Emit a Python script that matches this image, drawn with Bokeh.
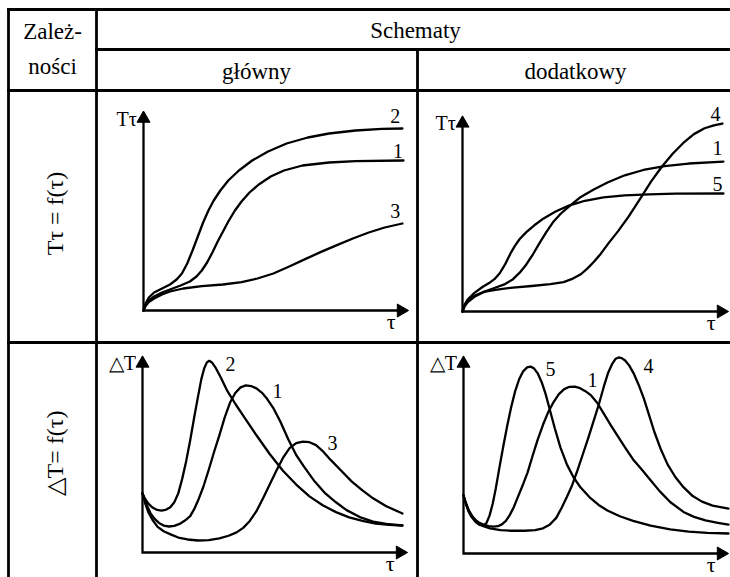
import numpy as np
from bokeh.plotting import figure
from bokeh.models import Range1d
from bokeh.embed import file_html
from bokeh.resources import INLINE
from bokeh.core.properties import value

FONT = "Liberation Serif"

# ---------------- data (panel units: tau 0..10, value 0..10) ----------------
# Main scheme, T_tau = f(tau)
A2_tau = [0, 0.08, 0.2, 0.4, 0.7, 1.0, 1.25, 1.45, 1.65, 1.85, 2.05, 2.25, 2.45, 2.65, 2.9, 3.2, 3.6, 4.1, 4.7, 5.4, 6.2, 7.0, 8.0, 9.0, 9.77]
A2_T = [0, 0.35, 0.65, 0.9, 1.1, 1.3, 1.55, 1.85, 2.35, 3.0, 3.7, 4.4, 5.0, 5.5, 6.0, 6.5, 7.0, 7.5, 7.95, 8.35, 8.65, 8.85, 9.0, 9.08, 9.1]
A1_tau = [0, 0.08, 0.2, 0.4, 0.7, 1.0, 1.4, 1.75, 2.0, 2.2, 2.4, 2.6, 2.8, 3.0, 3.2, 3.45, 3.7, 4.0, 4.35, 4.8, 5.3, 6.0, 7.0, 8.0, 9.81]
A1_T = [0, 0.28, 0.5, 0.7, 0.9, 1.05, 1.25, 1.45, 1.7, 2.0, 2.4, 2.9, 3.45, 3.95, 4.45, 5.0, 5.45, 5.9, 6.3, 6.7, 7.0, 7.25, 7.4, 7.47, 7.5]
A3_tau = [0, 0.08, 0.2, 0.4, 0.7, 1.0, 1.5, 2.2, 3.0, 3.7, 4.3, 4.9, 5.5, 6.1, 6.7, 7.3, 7.9, 8.5, 9.1, 9.77]
A3_T = [0, 0.22, 0.42, 0.6, 0.8, 0.95, 1.1, 1.22, 1.3, 1.42, 1.6, 1.85, 2.2, 2.57, 2.93, 3.27, 3.6, 3.9, 4.15, 4.35]
A_labels = ["2", "1", "3"]
A_lab_tau = [9.5, 9.6, 9.5]
A_lab_T = [9.75, 8.0, 5.0]

# Additional scheme, T_tau = f(tau)
B4_tau = [0, 0.08, 0.2, 0.45, 0.8, 1.3, 1.9, 2.6, 3.3, 3.8, 4.15, 4.45, 4.7, 4.95, 5.2, 5.5, 5.85, 6.25, 6.7, 7.1, 7.5, 7.9, 8.3, 8.7, 9.1, 9.45, 9.77]
B4_T = [0, 0.3, 0.55, 0.8, 1.0, 1.12, 1.22, 1.3, 1.4, 1.5, 1.68, 1.9, 2.2, 2.55, 2.95, 3.5, 4.1, 4.85, 5.8, 6.65, 7.4, 8.05, 8.6, 9.05, 9.35, 9.5, 9.59]
B1_tau = [0, 0.08, 0.2, 0.45, 0.8, 1.2, 1.6, 1.9, 2.15, 2.4, 2.65, 2.9, 3.15, 3.4, 3.7, 4.0, 4.4, 4.9, 5.45, 6.1, 6.8, 7.6, 8.5, 9.81]
B1_T = [0, 0.27, 0.48, 0.75, 1.0, 1.2, 1.4, 1.65, 1.98, 2.4, 2.92, 3.5, 4.05, 4.55, 5.0, 5.35, 5.8, 6.2, 6.58, 6.95, 7.22, 7.42, 7.55, 7.65]
B5_tau = [0, 0.08, 0.2, 0.45, 0.75, 1.0, 1.2, 1.4, 1.6, 1.8, 1.97, 2.15, 2.4, 2.7, 3.05, 3.5, 4.0, 4.6, 5.3, 6.1, 7.0, 8.0, 9.81]
B5_T = [0, 0.35, 0.62, 0.95, 1.25, 1.45, 1.65, 1.95, 2.4, 2.95, 3.35, 3.7, 4.05, 4.4, 4.75, 5.1, 5.4, 5.65, 5.82, 5.92, 5.98, 6.01, 6.02]
B_labels = ["4", "1", "5"]
B_lab_tau = [9.51, 9.59, 9.59]
B_lab_T = [10.1, 8.32, 6.53]

# Main scheme, dT = f(tau)
C2_tau = [0, 0.1, 0.22, 0.38, 0.55, 0.72, 0.9, 1.05, 1.2, 1.35, 1.5, 1.65, 1.8, 1.95, 2.1, 2.22, 2.33, 2.43, 2.52, 2.62, 2.75, 2.95, 3.2, 3.5, 3.85, 4.3, 4.8, 5.3, 5.8, 6.3, 6.8, 7.3, 7.8, 8.3, 8.8, 9.3, 9.81]
C2_dT = [3.0, 2.72, 2.48, 2.28, 2.16, 2.13, 2.18, 2.3, 2.55, 3.0, 3.75, 4.65, 5.7, 6.85, 7.95, 8.8, 9.35, 9.65, 9.73, 9.65, 9.4, 8.9, 8.2, 7.55, 6.85, 5.95, 5.0, 4.15, 3.45, 2.85, 2.4, 2.05, 1.78, 1.6, 1.47, 1.4, 1.37]
C1_tau = [0, 0.08, 0.18, 0.3, 0.45, 0.62, 0.8, 1.0, 1.2, 1.4, 1.6, 1.8, 1.95, 2.1, 2.3, 2.5, 2.7, 2.9, 3.1, 3.3, 3.5, 3.7, 3.9, 4.1, 4.3, 4.5, 4.7, 4.95, 5.2, 5.5, 5.8, 6.1, 6.5, 6.9, 7.3, 7.7, 8.2, 8.7, 9.2, 9.81]
C1_dT = [3.0, 2.7, 2.35, 2.0, 1.72, 1.5, 1.37, 1.32, 1.35, 1.45, 1.62, 1.85, 2.2, 2.65, 3.35, 4.2, 5.1, 5.95, 6.85, 7.6, 8.1, 8.38, 8.48, 8.45, 8.33, 8.12, 7.8, 7.3, 6.65, 5.75, 4.95, 4.35, 3.6, 3.0, 2.55, 2.15, 1.8, 1.57, 1.45, 1.37]
C3_tau = [0, 0.1, 0.22, 0.38, 0.57, 0.8, 1.06, 1.35, 1.7, 2.1, 2.5, 2.9, 3.25, 3.55, 3.8, 4.05, 4.3, 4.55, 4.8, 5.05, 5.3, 5.55, 5.8, 6.05, 6.3, 6.55, 6.8, 7.1, 7.5, 7.9, 8.3, 8.7, 9.2, 9.81]
C3_dT = [3.0, 2.5, 2.05, 1.65, 1.3, 1.08, 0.92, 0.76, 0.66, 0.61, 0.63, 0.72, 0.85, 1.02, 1.25, 1.6, 2.1, 2.75, 3.45, 4.15, 4.8, 5.3, 5.55, 5.63, 5.6, 5.45, 5.15, 4.7, 4.15, 3.6, 3.15, 2.75, 2.35, 1.98]
C_labels = ["2", "1", "3"]
C_lab_tau = [3.32, 5.09, 7.17]
C_lab_dT = [9.59, 8.22, 5.58]

# Additional scheme, dT = f(tau)
D5_tau = [0, 0.08, 0.18, 0.3, 0.45, 0.6, 0.75, 0.87, 0.98, 1.1, 1.22, 1.35, 1.5, 1.65, 1.8, 1.95, 2.1, 2.25, 2.4, 2.53, 2.66, 2.8, 2.95, 3.1, 3.28, 3.45, 3.66, 3.9, 4.15, 4.42, 4.75, 5.1, 5.43, 5.9, 6.4, 7.06, 7.8, 8.5, 9.2, 10.0]
D5_dT = [2.93, 2.55, 2.15, 1.85, 1.6, 1.45, 1.41, 1.55, 1.9, 2.5, 3.3, 4.3, 5.4, 6.45, 7.4, 8.2, 8.8, 9.2, 9.4, 9.44, 9.35, 9.1, 8.65, 8.05, 7.15, 6.3, 5.35, 4.5, 3.85, 3.33, 2.85, 2.45, 2.17, 1.88, 1.65, 1.41, 1.22, 1.1, 1.04, 1.01]
D1_tau = [0, 0.08, 0.19, 0.32, 0.45, 0.6, 0.75, 0.95, 1.13, 1.3, 1.45, 1.6, 1.75, 1.9, 2.05, 2.25, 2.42, 2.6, 2.8, 3.0, 3.2, 3.4, 3.6, 3.8, 4.0, 4.2, 4.4, 4.6, 4.8, 5.05, 5.3, 5.55, 5.81, 6.1, 6.4, 6.75, 7.06, 7.4, 7.8, 8.3, 8.7, 9.13, 9.6, 10.0]
D1_dT = [2.93, 2.6, 2.2, 1.9, 1.7, 1.55, 1.46, 1.38, 1.36, 1.38, 1.47, 1.65, 1.95, 2.35, 2.85, 3.5, 4.1, 4.9, 5.75, 6.5, 7.15, 7.65, 8.05, 8.3, 8.42, 8.43, 8.35, 8.2, 8.0, 7.6, 7.05, 6.5, 5.95, 5.35, 4.75, 4.2, 3.7, 3.15, 2.6, 2.1, 1.85, 1.67, 1.55, 1.46]
D4_tau = [0, 0.08, 0.2, 0.35, 0.53, 0.75, 1.0, 1.4, 1.8, 2.3, 2.7, 3.0, 3.25, 3.5, 3.7, 3.9, 4.1, 4.3, 4.5, 4.7, 4.9, 5.1, 5.3, 5.45, 5.6, 5.73, 5.85, 5.97, 6.1, 6.25, 6.42, 6.6, 6.8, 7.0, 7.2, 7.45, 7.7, 8.0, 8.3, 8.65, 9.0, 9.4, 10.0]
D4_dT = [2.93, 2.55, 2.15, 1.82, 1.57, 1.38, 1.27, 1.18, 1.15, 1.15, 1.18, 1.27, 1.45, 1.8, 2.3, 2.85, 3.45, 4.2, 5.0, 5.8, 6.65, 7.5, 8.45, 9.1, 9.55, 9.82, 9.9, 9.87, 9.75, 9.5, 9.1, 8.55, 7.85, 7.0, 6.15, 5.25, 4.5, 3.85, 3.35, 2.9, 2.62, 2.42, 2.27]
D_labels = ["5", "1", "4"]
D_lab_tau = [3.28, 4.87, 6.98]
D_lab_dT = [9.34, 8.74, 9.49]

# ---------------- figure (canvas in pixel-like units, y downward) ----------------
W, H = 730, 577
p = figure(width=W, height=H, x_range=Range1d(0, W), y_range=Range1d(H, 0),
           output_backend="svg", toolbar_location=None, min_border=0,
           x_axis_location=None, y_axis_location=None)
p.grid.visible = False
p.outline_line_color = None
p.background_fill_color = "white"
p.border_fill_color = "white"

LW_T = 2.8
# table rules
p.segment(x0=[8, 8, 96, 8, 8, 96, 417], y0=[9, 9, 49, 90, 342, 9, 49],
          x1=[730, 8, 730, 730, 730, 96, 417], y1=[9, 577, 49, 90, 342, 577, 577],
          line_color="black", line_width=LW_T, line_cap="square")

p.text(x=[52, 52], y=[31, 66], text=["Zależ-", "ności"], text_font=value(FONT),
       text_font_size="23px", text_align="center", text_baseline="middle", text_color="black")
p.text(x=[415], y=[30], text=["Schematy"], text_font=value(FONT),
       text_font_size="23px", text_align="center", text_baseline="middle", text_color="black")
p.text(x=[256, 575], y=[71, 71], text=["główny", "dodatkowy"], text_font=value(FONT),
       text_font_size="23px", text_align="center", text_baseline="middle", text_color="black")
p.text(x=[54, 54], y=[213, 453], text=["Tτ = f(τ)", "△T= f(τ)"], angle=np.pi / 2,
       text_font=value(FONT), text_font_size="24px", text_align="center",
       text_baseline="middle", text_color="black")

LW = 2.3


def panel(x0, x1, y0, y1, ylab, curves, labels, lab_x, lab_y):
    sp = p.subplot(x_source=Range1d(0, 10), y_source=Range1d(0, 10),
                   x_target=Range1d(x0, x1), y_target=Range1d(y0, y1))
    # axes
    sp.line(x=[0, 0, 9.7], y=[9.55, 0, 0], line_color="black", line_width=LW, line_join="miter")
    sp.scatter(x=[0], y=[9.6], marker="triangle", size=13, color="black")
    sp.scatter(x=[9.72], y=[0], marker="triangle", size=13, angle=-np.pi / 2, color="black")
    sp.text(x=[-0.25], y=[9.6], text=[ylab], text_font=value(FONT), text_font_size="20px",
            text_align="right", text_baseline="middle", text_color="black")
    sp.text(x=[9.35], y=[-0.55], text=["τ"], text_font=value(FONT), text_font_size="22px",
            text_align="center", text_baseline="middle", text_color="black")
    for cx, cy in curves:
        sp.line(x=cx, y=cy, line_color="black", line_width=LW, line_join="round", line_cap="round")
    sp.text(x=lab_x, y=lab_y, text=labels, text_font=value(FONT), text_font_size="20px",
            text_align="center", text_baseline="middle", text_color="black")


panel(143, 408, 310, 110, "Tτ", [(A2_tau, A2_T), (A1_tau, A1_T), (A3_tau, A3_T)],
      A_labels, A_lab_tau, A_lab_T)
panel(462, 728, 311, 115, "Tτ", [(B4_tau, B4_T), (B1_tau, B1_T), (B5_tau, B5_T)],
      B_labels, B_lab_tau, B_lab_T)
panel(142, 407, 552, 355, "△T", [(C2_tau, C2_dT), (C1_tau, C1_dT), (C3_tau, C3_dT)],
      C_labels, C_lab_tau, C_lab_dT)
panel(463, 728, 553, 355, "△T", [(D5_tau, D5_dT), (D1_tau, D1_dT), (D4_tau, D4_dT)],
      D_labels, D_lab_tau, D_lab_dT)

open("out.html", "w").write(file_html(p, INLINE))
